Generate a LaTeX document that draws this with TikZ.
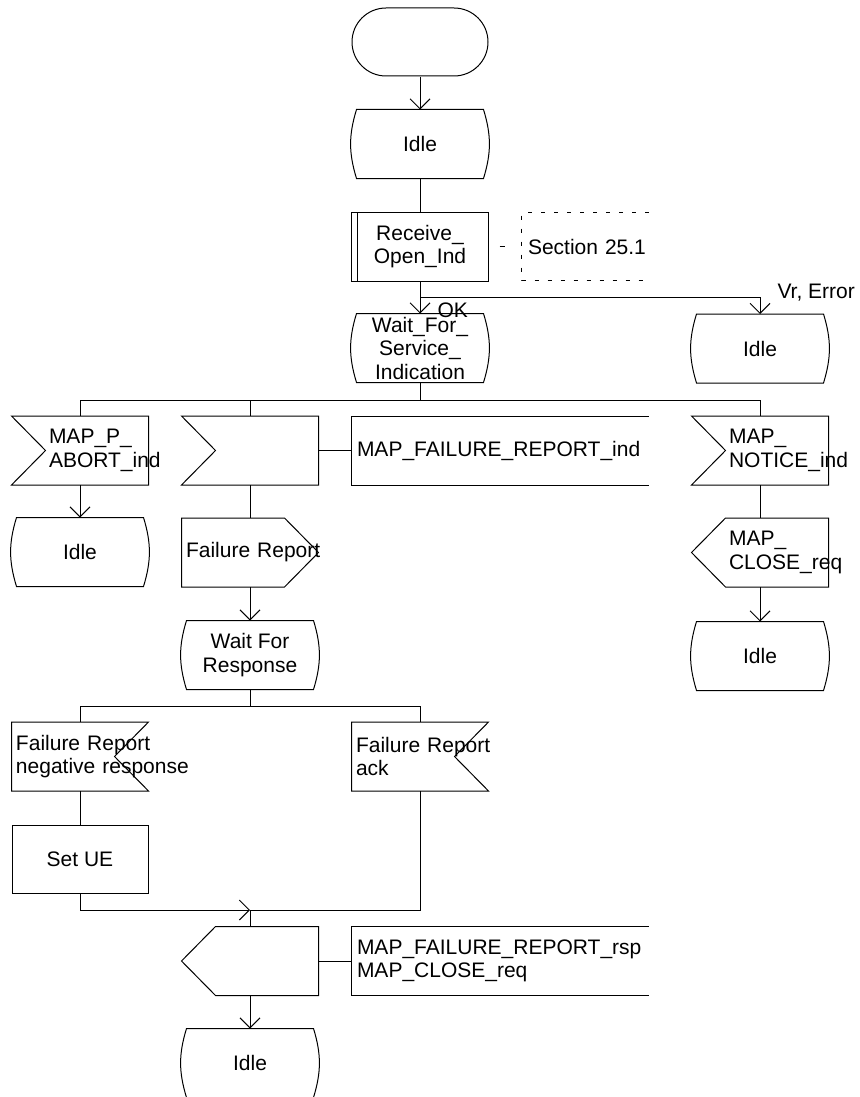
\documentclass[tikz,border=0pt]{standalone}
\usepackage{fontspec}
\setmainfont{Liberation Sans}
\usetikzlibrary{shapes.misc,arrows.meta}
\hyphenpenalty=10000
\exhyphenpenalty=10000
% outlines of the SDL symbols, drawn round a named node
\newcommand{\sdlState}[1]{\draw ([xshift=5pt]#1.north west) -- ([xshift=-5pt]#1.north east) to[bend left=17] ([xshift=-5pt]#1.south east) -- ([xshift=5pt]#1.south west) to[bend left=17] cycle;}
\newcommand{\sdlInL}[1]{\draw (#1.north west) -- (#1.north east) -- (#1.south east) -- (#1.south west) -- ([xshift=34pt]#1.west) -- cycle;}
\newcommand{\sdlInR}[1]{\draw (#1.north west) -- (#1.north east) -- ([xshift=-34pt]#1.east) -- (#1.south east) -- (#1.south west) -- cycle;}
\newcommand{\sdlOutR}[1]{\draw (#1.north west) -- ([xshift=-34pt]#1.north east) -- (#1.east) -- ([xshift=-34pt]#1.south east) -- (#1.south west) -- cycle;}
\newcommand{\sdlOutL}[1]{\draw ([xshift=34pt]#1.north west) -- (#1.north east) -- (#1.south east) -- ([xshift=34pt]#1.south west) -- (#1.west) -- cycle;}
\newcommand{\sdlProc}[1]{\draw (#1.north west) rectangle (#1.south east); \draw ([xshift=6pt]#1.north west) -- ([xshift=6pt]#1.south west);}
\newcommand{\sdlText}[1]{\draw (#1.north east) -- (#1.north west) -- (#1.south west) -- (#1.south east);}
\newcommand{\sdlNote}[1]{\draw[dash pattern=on 4pt off 9pt] (#1.north east) -- (#1.north west) -- (#1.south west) -- (#1.south east);}

\begin{document}
\begin{tikzpicture}[x=1pt,y=-1pt,line width=1pt,
  font=\fontsize{21}{23.5}\selectfont,
  point/.style={coordinate},
  box/.style={rectangle, minimum width=136pt, minimum height=68pt, inner sep=0pt, align=center},
  sdlstart/.style={box, draw, rounded rectangle},
  sdltask/.style={box, draw},
  sdlsig/.style={box, text width=62pt, align=left},
  sdlsigw/.style={box, text width=128pt, align=left},
  sdlnote/.style={box, minimum width=296pt, text width=286pt, align=left},
  sdlremark/.style={box, minimum width=126pt, minimum height=67pt, text width=114pt, align=left},
  lbl/.style={inner sep=0pt, anchor=base west},
  arr/.style={-{Straight Barb[length=10pt,width=20pt]}}]
\useasboundingbox (0,0) rectangle (859,1097);
\node[sdlstart] (start) at (420,42) {};
\node[box] (idle1) at (420,144) {Idle};
\node[box] (recv) at (420,246.5) {Receive\_\\Open\_Ind};
\node[sdlremark] (sect) at (585,246.5) {Section~25.1};
\node[box] (wfsi) at (420,348) {Wait\_For\_\\Service\_\\Indication};
\node[box] (idle2) at (760,348.5) {Idle};
\node[sdlsig] (abort) at (80,450.5) {MAP\_P\_\\ABORT\_ind};
\node[sdlsig] (frin) at (250,450.5) {};
\node[sdlnote] (frind) at (500,450.5) {MAP\_FAILURE\_REPORT\_ind};
\node[sdlsig] (notice) at (760,450.5) {MAP\_\\NOTICE\_ind};
\node[box] (idle3) at (80,552) {Idle};
\node[sdlsigw] (frout) at (250,552.5) {Failure~Report};
\node[sdlsig] (close) at (760,552.5) {MAP\_\\CLOSE\_req};
\node[box] (wfr) at (250,655) {Wait For\\Response};
\node[box] (idle4) at (760,656) {Idle};
\node[sdlsigw] (frneg) at (80,756.5) {Failure~Report\\negative~response};
\node[sdlsigw] (frack) at (420,756.5) {Failure~Report\\ack};
\node[sdltask] (setue) at (80,859) {Set UE};
\node[box] (rspout) at (250,961) {};
\node[sdlnote] (frrsp) at (500,961) {MAP\_FAILURE\_REPORT\_rsp\\MAP\_CLOSE\_req};
\node[box] (idle5) at (250,1063) {Idle};
\node[point] (b1) at (420,297) {};
\node[point] (b2) at (420,400) {};
\node[point] (b3) at (250,706) {};
\node[point] (b4) at (250,910) {};
\node[lbl] (ok) at (437,317) {OK};
\node[lbl] (vrerr) at (777,298) {Vr, Error};
\foreach \s in {idle1,wfsi,idle2,idle3,wfr,idle4,idle5} {\sdlState{\s}}
\sdlProc{recv}
\sdlNote{sect}
\sdlInL{abort}
\sdlInL{frin}
\sdlInL{notice}
\sdlText{frind}
\sdlOutR{frout}
\sdlOutL{close}
\sdlInR{frneg}
\sdlInR{frack}
\sdlOutL{rspout}
\sdlText{frrsp}
\draw[arr] (start) -- (idle1);
\draw (idle1) -- (recv);
\draw[arr] (recv) -- (wfsi);
\draw[arr] (b1) -| (idle2);
\draw[dash pattern=on 5pt off 20pt, dash phase=14pt] (recv) -- (sect);
\draw (wfsi) -- (b2);
\draw (b2) -| (abort);
\draw (b2) -| (frin);
\draw (b2) -| (notice);
\draw (frin) -- (frind);
\draw[arr] (abort) -- (idle3);
\draw (frin) -- (frout);
\draw[arr] (frout) -- (wfr);
\draw (notice) -- (close);
\draw[arr] (close) -- (idle4);
\draw (wfr) -- (b3);
\draw (b3) -| (frneg);
\draw (b3) -| (frack);
\draw (frneg) -- (setue);
\draw[arr] (setue) |- (b4);
\draw (frack) |- (b4);
\draw (b4) -- (rspout);
\draw (rspout) -- (frrsp);
\draw[arr] (rspout) -- (idle5);
\end{tikzpicture}
\end{document}
